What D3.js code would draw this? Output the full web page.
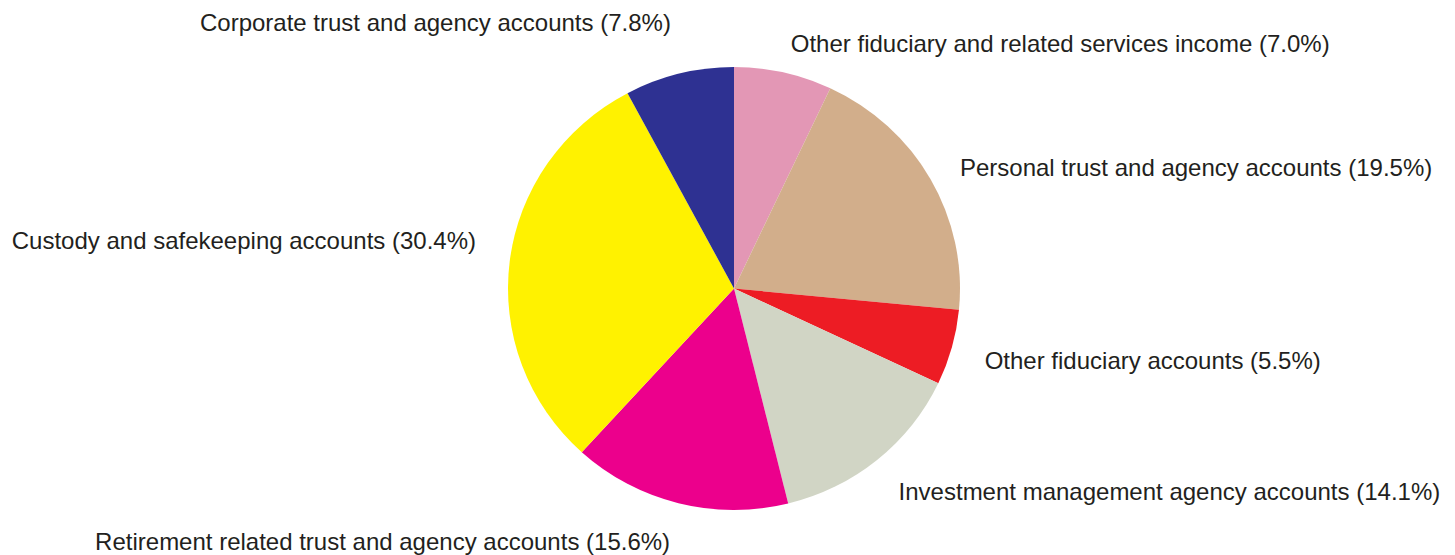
<!DOCTYPE html>
<html>
<head>
<meta charset="utf-8">
<script src="https://cdn.jsdelivr.net/npm/d3@7"></script>
<style>
	body { margin: 0; background: #fff; }
	text { font-family: Arial, "Liberation Sans", sans-serif; font-size: 24px; fill: #231f20; }
</style>
</head>
<body>
<div id="chart"></div>
<script>
// slices, clockwise from 12 o'clock
const categories = [
	'Other fiduciary and related services income',
	'Personal trust and agency accounts',
	'Other fiduciary accounts',
	'Investment management agency accounts',
	'Retirement related trust and agency accounts',
	'Custody and safekeeping accounts',
	'Corporate trust and agency accounts'
];
const shares = [7.0, 19.5, 5.5, 14.1, 15.6, 30.4, 7.8];
const colors = ['#e397b5', '#d2ae8b', '#ed1c24', '#d1d5c5', '#ec008c', '#fff200', '#2e3192'];

window.onload = function() {
	const width = 1455;
	const height = 555;
	const cx = 734;
	const cy = 288.5;
	const radius = 226;
	const squash = 0.98; // the original pie is a touch flatter than round
	const labelRadius = 260;
	// small vertical nudges to match the original label placement
	const labelNudge = [9, 8, 3, 2, 1, -16, -14];

	const data = categories.map((name, i) => ({ name: name, value: shares[i], color: colors[i], nudge: labelNudge[i] }));

	const svg = d3.select('#chart')
		.append('svg')
		.attr('width', width)
		.attr('height', height);

	const pie = d3.pie()
		.sort(null)
		.value(d => d.value);

	const arc = d3.arc()
		.innerRadius(0)
		.outerRadius(radius);

	const labelArc = d3.arc()
		.innerRadius(labelRadius)
		.outerRadius(labelRadius);

	const arcs = pie(data);

	svg.append('g')
		.attr('transform', `translate(${cx}, ${cy}) scale(1, ${squash})`)
		.selectAll('path.slice')
		.data(arcs)
		.enter()
		.append('path')
		.attr('class', 'slice')
		.attr('d', arc)
		.attr('fill', d => d.data.color);

	svg.append('g')
		.attr('transform', `translate(${cx}, ${cy})`)
		.selectAll('text.label')
		.data(arcs)
		.enter()
		.append('text')
		.attr('class', 'label')
		.attr('x', d => labelArc.centroid(d)[0])
		.attr('y', d => labelArc.centroid(d)[1] + d.data.nudge)
		.attr('dy', '0.35em')
		.attr('text-anchor', d => (d.startAngle + d.endAngle) / 2 < Math.PI ? 'start' : 'end')
		.text(d => `${d.data.name} (${d.data.value.toFixed(1)}%)`);
};
</script>
</body>
</html>
